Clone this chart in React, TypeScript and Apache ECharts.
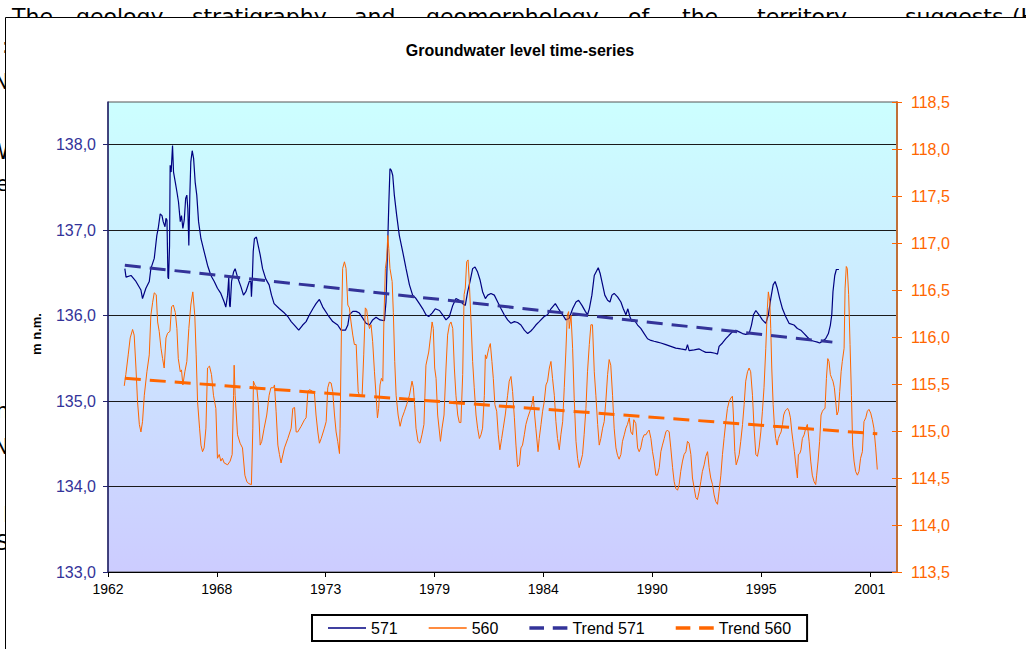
import React, { useEffect, useRef } from "react";
import * as echarts from "echarts";

// ---- axis definitions ----
const AXIS_START_YEAR = 1962.693; // x axis origin (Sept 1962), ticks every 2000 days
const X_MAX_DAYS = 14500;
const X_INTERVAL_DAYS = 2000;
const xTickDays = [0, 2000, 4000, 6000, 8000, 10000, 12000, 14000];
const leftTicks = [133, 134, 135, 136, 137, 138];

// ---- series: [decimal year, level m n.m.] ----
const s571: number[][] = [
  [1963.54,136.55],[1963.60,136.45],[1963.85,136.47],[1964.10,136.40],[1964.35,136.30],[1964.43,136.20],[1964.60,136.32],[1964.77,136.40],[1964.85,136.55],[1965.02,136.67],[1965.15,136.94],[1965.22,137.02],[1965.32,137.19],[1965.41,137.17],[1965.47,137.10],[1965.56,137.04],[1965.61,137.14],[1965.66,137.12],[1965.71,136.45],[1965.74,136.43],[1965.79,136.82],[1965.82,137.76],[1965.87,137.68],[1965.94,137.99],[1965.99,137.68],[1966.08,137.56],[1966.16,137.45],[1966.24,137.33],[1966.33,137.10],[1966.39,137.17],[1966.46,137.02],[1966.53,137.12],[1966.60,137.37],[1966.66,137.41],[1966.71,137.25],[1966.76,136.82],[1966.81,137.41],[1966.86,137.80],[1966.93,137.93],[1967.00,137.84],[1967.08,137.56],[1967.16,137.41],[1967.25,137.10],[1967.37,136.90],[1967.53,136.75],[1967.70,136.59],[1967.87,136.47],[1968.04,136.40],[1968.20,136.32],[1968.37,136.26],[1968.54,136.16],[1968.62,136.10],[1968.71,136.24],[1968.77,136.45],[1968.81,136.12],[1968.84,136.10],[1968.91,136.40],[1969.01,136.51],[1969.09,136.55],[1969.21,136.45],[1969.38,136.34],[1969.51,136.24],[1969.63,136.28],[1969.80,136.40],[1969.88,136.40],[1969.91,136.22],[1969.95,136.40],[1970.00,136.75],[1970.06,136.90],[1970.16,136.92],[1970.25,136.82],[1970.35,136.71],[1970.47,136.55],[1970.63,136.43],[1970.80,136.36],[1970.92,136.24],[1971.05,136.14],
  [1971.32,136.08],[1971.57,136.03],[1971.74,135.99],[1971.91,135.93],[1972.07,135.89],[1972.29,135.83],[1972.49,135.89],[1972.66,135.93],[1972.83,136.01],[1973.00,136.08],[1973.16,136.14],[1973.33,136.19],[1973.50,136.10],[1973.75,136.01],[1974.00,135.93],[1974.25,135.89],[1974.42,135.83],[1974.64,135.83],[1974.76,135.89],[1974.84,136.01],[1975.01,136.05],[1975.18,136.05],[1975.34,136.03],[1975.51,135.97],[1975.68,135.91],[1975.85,135.89],[1976.01,135.95],[1976.18,135.98],[1976.38,135.95],[1976.60,135.94],[1976.68,136.16],[1976.75,136.71],[1976.82,137.29],[1976.88,137.72],[1976.95,137.70],[1977.02,137.64],[1977.10,137.41],[1977.22,137.17],[1977.35,136.94],[1977.52,136.75],[1977.69,136.55],[1977.86,136.36],[1978.02,136.24],[1978.19,136.20],[1978.36,136.14],[1978.53,136.08],[1978.69,136.01],[1978.83,135.99],[1979.00,136.03],[1979.16,136.08],
  [1979.37,136.06],[1979.53,136.01],[1979.70,135.95],[1979.87,135.99],[1980.04,136.12],[1980.20,136.20],[1980.37,136.18],[1980.54,136.14],[1980.67,136.12],[1980.79,136.28],[1980.91,136.40],[1981.04,136.55],[1981.16,136.57],[1981.29,136.51],[1981.41,136.42],[1981.54,136.28],[1981.68,136.20],[1981.80,136.24],[1981.96,136.26],[1982.13,136.24],[1982.30,136.16],[1982.47,136.08],[1982.63,136.01],[1982.80,135.95],[1982.97,135.91],[1983.14,135.93],[1983.30,135.92],[1983.47,135.89],[1983.64,135.83],[1983.81,135.79],[1983.97,135.82],[1984.09,135.85],[1984.22,135.89],[1984.39,135.93],[1984.64,135.99],[1984.81,136.01],[1984.98,136.08],[1985.20,136.14],[1985.36,136.08],[1985.57,136.01],[1985.73,135.95],[1985.90,135.97],[1986.07,136.08],[1986.24,136.16],[1986.37,136.18],[1986.54,136.12],[1986.71,136.05],[1986.82,136.01],[1986.91,136.08],[1987.04,136.24],[1987.16,136.47],
  [1987.36,136.56],[1987.46,136.49],[1987.58,136.36],[1987.69,136.24],[1987.83,136.18],[1987.95,136.16],[1988.05,136.24],[1988.16,136.26],[1988.33,136.22],[1988.50,136.16],[1988.62,136.08],[1988.75,136.01],[1988.85,136.08],[1988.95,135.99],[1989.05,135.93],[1989.17,135.95],[1989.34,135.89],[1989.50,135.85],[1989.67,135.79],[1989.84,135.73],[1990.01,135.71],[1990.17,135.70],[1990.34,135.69],[1990.51,135.68],[1990.76,135.66],[1991.01,135.64],[1991.26,135.62],[1991.51,135.61],[1991.77,135.60],[1991.85,135.66],[1991.93,135.59],[1992.19,135.60],[1992.44,135.61],[1992.60,135.59],[1992.77,135.57],[1993.02,135.57],[1993.24,135.56],[1993.36,135.55],[1993.44,135.64],[1993.61,135.68],[1993.78,135.73],[1993.94,135.77],[1994.11,135.81],[1994.28,135.83],[1994.45,135.81],[1994.62,135.79],[1994.78,135.78],[1994.95,135.79],[1995.07,135.89],[1995.17,136.01],
  [1995.29,136.06],[1995.45,136.01],[1995.62,135.95],[1995.79,135.91],[1995.92,136.01],[1996.04,136.20],[1996.16,136.36],[1996.26,136.40],[1996.37,136.32],[1996.49,136.20],[1996.63,136.08],[1996.79,135.99],[1996.96,135.91],[1997.21,135.89],[1997.38,135.85],[1997.55,135.83],[1997.72,135.79],[1997.88,135.75],[1998.05,135.71],[1998.22,135.70],[1998.39,135.69],[1998.50,135.68],[1998.64,135.70],[1998.80,135.73],[1998.94,135.79],[1999.04,135.89],[1999.11,136.01],[1999.17,136.28],[1999.26,136.47],[1999.34,136.54],[1999.47,136.54]
];

const s560: number[][] = [
  [1963.51,115.48],[1963.59,115.60],[1963.71,115.81],[1963.81,115.99],[1963.93,116.08],[1964.01,116.02],[1964.10,115.67],[1964.18,115.31],[1964.27,115.07],[1964.35,114.99],[1964.43,115.10],[1964.52,115.38],[1964.65,115.63],[1964.77,115.81],[1964.85,116.23],[1964.94,116.37],[1965.02,116.47],[1965.12,116.45],[1965.19,116.16],[1965.27,116.06],[1965.36,115.88],[1965.44,115.77],[1965.52,115.67],[1965.61,115.99],[1965.69,116.04],[1965.81,116.06],[1965.89,116.32],[1965.98,116.34],[1966.08,116.26],[1966.16,116.09],[1966.23,115.77],[1966.33,115.63],[1966.39,115.65],[1966.46,115.49],[1966.56,115.63],[1966.66,115.74],[1966.76,116.09],[1966.86,116.34],[1966.96,116.48],[1967.06,116.23],[1967.13,115.81],[1967.20,115.31],[1967.30,115.03],[1967.37,114.85],[1967.45,114.78],[1967.53,114.82],[1967.62,115.03],[1967.70,115.67],[1967.80,115.69],[1967.90,115.60],[1968.00,115.38],[1968.12,115.24],[1968.20,114.71],[1968.29,114.75],[1968.37,114.68],[1968.45,114.71],[1968.54,114.66],[1968.71,114.64],[1968.84,114.68],[1968.94,114.75],[1969.01,115.38],[1969.04,115.70],[1969.09,115.38],[1969.21,114.96],[1969.34,114.87],[1969.46,114.82],[1969.58,114.53],[1969.68,114.46],[1969.78,114.44],[1969.91,114.43],[1969.98,115.03],[1970.01,115.53],[1970.08,115.49],[1970.18,115.46],[1970.26,115.28],[1970.35,114.85],[1970.43,114.89],[1970.55,115.03],[1970.68,115.17],[1970.80,115.38],[1970.89,115.46],[1971.02,115.46],
  [1971.07,115.49],[1971.15,115.21],[1971.24,114.85],[1971.32,114.75],[1971.40,114.66],[1971.57,114.82],[1971.74,114.92],[1971.91,115.03],[1971.99,115.24],[1972.08,115.25],[1972.16,114.99],[1972.24,114.99],[1972.41,115.05],[1972.58,115.12],[1972.66,115.14],[1972.75,115.42],[1972.83,115.44],[1973.00,115.42],[1973.08,115.40],[1973.16,115.17],[1973.25,114.99],[1973.33,114.87],[1973.42,114.92],[1973.58,115.03],[1973.67,115.10],[1973.75,115.46],[1973.83,115.52],[1973.92,115.51],[1974.00,115.42],[1974.09,115.17],[1974.17,114.99],[1974.25,114.89],[1974.34,114.76],[1974.37,115.03],[1974.44,116.09],[1974.50,116.73],[1974.59,116.80],[1974.67,116.73],[1974.76,116.34],[1974.84,116.31],[1974.92,116.16],[1975.01,116.02],[1975.09,115.92],[1975.18,115.92],[1975.23,115.67],[1975.28,115.42],[1975.34,115.38],[1975.48,115.38],[1975.56,115.81],[1975.64,116.31],[1975.71,116.29],[1975.78,116.16],[1975.85,116.09],[1975.93,116.13],[1976.01,115.95],[1976.10,115.63],[1976.18,115.38],[1976.25,115.14],[1976.31,115.24],[1976.38,115.49],[1976.45,115.56],[1976.52,115.53],[1976.58,116.23],[1976.65,116.73],[1976.72,116.84],[1976.77,117.08],[1976.82,116.94],[1976.88,116.73],[1976.99,116.59],[1977.05,116.26],[1977.12,115.74],[1977.19,115.38],[1977.29,115.17],[1977.39,115.05],[1977.49,115.14],[1977.61,115.21],[1977.72,115.28],[1977.86,115.38],[1977.99,115.53],[1978.06,115.46],[1978.12,115.28],[1978.19,115.03],[1978.29,114.89],[1978.39,114.87],[1978.49,114.96],[1978.59,115.07],[1978.69,115.70],[1978.83,115.84],[1978.93,116.02],[1979.00,116.16],[1979.06,116.09],[1979.13,115.67],[1979.20,115.56],[1979.28,115.17],
  [1979.42,114.89],[1979.50,115.03],[1979.60,115.17],[1979.70,115.67],[1979.78,116.02],[1979.87,116.13],[1979.95,116.16],[1980.04,116.09],[1980.12,115.67],[1980.20,115.38],[1980.29,115.17],[1980.37,115.09],[1980.45,115.09],[1980.54,115.60],[1980.61,116.45],[1980.67,116.52],[1980.74,116.80],[1980.81,116.82],[1980.87,116.59],[1980.96,116.16],[1981.04,115.74],[1981.12,115.46],[1981.21,115.17],[1981.29,115.03],[1981.38,114.92],[1981.46,114.96],[1981.54,115.03],[1981.63,115.38],[1981.68,115.81],[1981.74,115.77],[1981.85,115.88],[1981.93,115.93],[1982.01,115.74],[1982.08,115.56],[1982.16,115.28],[1982.25,115.21],[1982.33,114.96],[1982.41,114.80],[1982.50,114.92],[1982.58,115.03],[1982.68,115.17],[1982.80,115.38],[1982.88,115.53],[1982.97,115.58],[1983.05,115.42],[1983.14,115.14],[1983.22,114.85],[1983.30,114.62],[1983.39,114.64],[1983.47,114.82],[1983.55,114.85],[1983.64,114.96],[1983.72,115.07],[1983.81,115.14],[1983.92,115.21],[1984.02,115.28],[1984.09,115.37],[1984.16,115.17],[1984.22,115.03],[1984.33,114.78],[1984.39,114.92],[1984.48,115.07],[1984.56,115.21],[1984.64,115.31],[1984.73,115.49],[1984.81,115.53],[1984.90,115.67],[1984.98,115.74],[1985.06,115.56],[1985.15,115.38],[1985.23,115.10],[1985.31,114.92],[1985.40,114.80],[1985.48,114.96],[1985.57,115.10],[1985.65,115.46],[1985.73,115.84],[1985.80,116.23],[1985.87,116.27],[1985.90,116.09],[1985.99,116.23],[1986.07,115.88],[1986.15,115.35],[1986.24,114.89],[1986.32,114.71],[1986.40,114.61],[1986.49,114.68],[1986.57,114.75],[1986.65,114.96],[1986.74,115.24],[1986.82,115.63],[1986.91,115.92],[1986.99,116.13],[1987.07,116.13],[1987.16,115.63],[1987.24,115.38],[1987.33,115.07],
  [1987.41,114.85],[1987.49,114.92],[1987.58,115.03],[1987.66,115.10],[1987.74,115.31],[1987.83,115.60],[1987.91,115.76],[1987.99,115.70],[1988.08,115.38],[1988.16,115.03],[1988.25,114.82],[1988.33,114.74],[1988.41,114.70],[1988.50,114.75],[1988.58,114.89],[1988.67,114.96],[1988.75,115.03],[1988.83,115.07],[1988.92,115.14],[1989.00,114.99],[1989.09,114.96],[1989.15,115.12],[1989.25,115.08],[1989.34,114.82],[1989.42,114.78],[1989.50,114.82],[1989.59,114.92],[1989.67,114.96],[1989.76,114.96],[1989.84,114.99],[1989.92,115.01],[1990.01,114.92],[1990.09,114.78],[1990.17,114.68],[1990.26,114.53],[1990.34,114.53],[1990.43,114.61],[1990.51,114.78],[1990.59,114.85],[1990.68,114.92],[1990.76,114.99],[1990.84,115.01],[1990.93,114.99],[1991.01,114.82],[1991.10,114.61],[1991.18,114.46],[1991.26,114.39],[1991.35,114.37],[1991.43,114.43],[1991.51,114.57],[1991.60,114.68],[1991.68,114.75],[1991.77,114.78],[1991.85,114.89],[1991.93,114.87],[1992.02,114.75],[1992.10,114.50],[1992.19,114.39],[1992.27,114.29],[1992.35,114.27],[1992.44,114.36],[1992.52,114.46],[1992.60,114.57],[1992.69,114.64],[1992.77,114.73],[1992.86,114.78],[1992.94,114.61],[1993.02,114.50],[1993.11,114.43],[1993.19,114.32],[1993.27,114.25],[1993.36,114.22],[1993.44,114.36],[1993.53,114.53],[1993.61,114.75],[1993.69,114.92],[1993.78,115.10],[1993.86,115.24],[1993.94,115.31],[1994.03,115.35],[1994.11,115.37],[1994.16,115.17],[1994.23,114.78],[1994.30,114.64],[1994.36,114.68],[1994.45,114.75],[1994.53,114.89],[1994.62,115.07],[1994.70,115.28],[1994.78,115.53],[1994.87,115.63],[1994.95,115.67],[1995.03,115.63],[1995.12,115.38],[1995.20,115.03],[1995.29,114.75],
  [1995.37,114.73],[1995.45,114.82],[1995.54,114.99],[1995.62,115.21],[1995.70,115.46],[1995.79,115.88],[1995.87,116.31],[1995.92,116.48],[1995.99,116.38],[1996.04,116.09],[1996.09,115.67],[1996.16,115.28],[1996.22,115.07],[1996.29,114.92],[1996.36,114.85],[1996.42,114.92],[1996.49,114.96],[1996.56,114.99],[1996.63,115.07],[1996.69,115.17],[1996.76,115.21],[1996.83,115.23],[1996.89,115.24],[1996.96,115.21],[1997.03,115.14],[1997.10,114.99],[1997.16,114.89],[1997.23,114.78],[1997.30,114.64],[1997.38,114.50],[1997.43,114.75],[1997.50,114.76],[1997.56,114.80],[1997.63,114.92],[1997.72,114.96],[1997.80,115.03],[1997.88,115.07],[1997.97,114.89],[1998.05,114.68],[1998.13,114.53],[1998.22,114.46],[1998.30,114.43],[1998.35,114.53],[1998.42,114.68],[1998.50,114.89],[1998.57,115.17],[1998.64,115.21],[1998.70,115.23],[1998.77,115.24],[1998.84,115.56],[1998.91,115.77],[1998.97,115.74],[1999.04,115.60],[1999.11,115.56],[1999.17,115.53],[1999.24,115.46],[1999.31,115.31],[1999.37,115.17],[1999.44,115.21],[1999.51,115.42],[1999.58,115.63],[1999.64,115.74],[1999.73,115.88],[1999.78,116.52],[1999.84,116.75],[1999.89,116.73],[1999.96,116.45],[2000.03,115.92],[2000.10,115.38],[2000.16,114.85],[2000.23,114.68],[2000.31,114.57],[2000.40,114.53],[2000.48,114.57],[2000.56,114.71],[2000.65,114.78],[2000.73,115.10],[2000.82,115.14],[2000.90,115.21],[2000.98,115.23],[2001.07,115.19],[2001.15,115.12],[2001.23,115.03],[2001.32,114.82],[2001.40,114.59]
];

const trend571: number[][] = [[1963.54, 136.59], [1999.14, 135.69]];
const trend560: number[][] = [[1963.54, 115.56], [2001.40, 114.97]];

const seriesNames = ["571", "560", "Trend 571", "Trend 560"];
const titleText = "Groundwater level time-series";
const yName = "m n.m.";

// background document text (page behind the chart)
const pageWords: [string, number][] = [
  ["The", 12], ["geology", 76], ["stratigraphy", 192], ["and", 354], ["geomorphology", 426],
  ["of", 628], ["the", 682], ["territory", 757], ["suggests", 905], ["(H", 1012],
];
const edgeLetters: [string, number][] = [
  [":", 46], ["N", 82], ["W", 152], ["e", 184], ["h", 411], ["N", 447], ["l", 515], ["S", 543],
];

const FONT = 'Arial, "Liberation Sans", sans-serif';
const SOLID_ICON = "path://M0,0h38v1.6h-38z";
const DASH_ICON = "path://M0,0h15v3.6h-15zM24,0h15v3.6h-15z";
const toDays = (y: number) => (y - AXIS_START_YEAR) * 365.25;
const toXY = (arr: number[][]) => arr.map(([t, v]) => [toDays(t), v]);
const fmtComma = (v: number) => v.toFixed(1).replace(".", ",");

export default function App() {
  const ref = useRef<HTMLDivElement>(null);
  useEffect(() => {
    if (!ref.current) return;
    const chart = echarts.init(ref.current, undefined, { renderer: "svg" });

    const graphic: any[] = [];
    pageWords.forEach(([w, x]) => {
      graphic.push({
        type: "text", x, y: 5, z: -20,
        style: { text: w, fill: "#000", font: `22px "DejaVu Sans", sans-serif`, textVerticalAlign: "top" },
      });
    });
    edgeLetters.forEach(([w, y]) => {
      graphic.push({
        type: "text", x: 9, y, z: -20,
        style: { text: w, fill: "#000", font: `21px "DejaVu Sans", sans-serif`, textAlign: "right", textVerticalAlign: "middle" },
      });
    });
    graphic.push({
      type: "rect", z: -10,
      shape: { x: 5.5, y: 17.5, width: 1100, height: 700 },
      style: { fill: "#ffffff", stroke: "#000000", lineWidth: 1 },
    });
    graphic.push({
      type: "text", x: 520, y: 50, z: 5,
      style: { text: titleText, fill: "#000", font: `bold 16px ${FONT}`, textAlign: "center", textVerticalAlign: "middle" },
    });
    graphic.push({
      type: "text", x: 36, y: 334, rotation: Math.PI / 2, z: 5,
      style: { text: yName, fill: "#000", font: `bold 13px ${FONT}`, textAlign: "center", textVerticalAlign: "middle" },
    });

    const option: any = {
      animation: false,
      backgroundColor: "transparent",
      graphic,
      grid: {
        left: 108, right: 129, top: 102, bottom: 77,
        show: true, borderColor: "#555", borderWidth: 1,
        backgroundColor: new echarts.graphic.LinearGradient(0, 0, 0, 1, [
          { offset: 0, color: "#ccffff" },
          { offset: 1, color: "#ccccff" },
        ]),
      },
      legend: {
        data: [
          { name: seriesNames[0], icon: SOLID_ICON },
          { name: seriesNames[1], icon: SOLID_ICON },
          { name: seriesNames[2], icon: DASH_ICON },
          { name: seriesNames[3], icon: DASH_ICON },
        ],
        left: 312, top: 615,
        padding: [5, 16, 5, 16],
        borderColor: "#000", borderWidth: 2,
        backgroundColor: "#fff",
        itemWidth: 38, itemHeight: 14, itemGap: 31,
        textStyle: { fontSize: 16, color: "#000", fontFamily: FONT },
      },
      xAxis: {
        type: "value", min: 0, max: X_MAX_DAYS, interval: X_INTERVAL_DAYS,
        axisLine: { show: true, lineStyle: { color: "#000", width: 1 } },
        axisTick: { show: true, length: 5, lineStyle: { color: "#000" }, customValues: xTickDays },
        axisLabel: {
          color: "#000", fontSize: 14, fontFamily: FONT, margin: 10,
          customValues: xTickDays,
          formatter: (v: number) => String(Math.floor(AXIS_START_YEAR + v / 365.25)),
        },
        splitLine: { show: false },
      },
      yAxis: [
        {
          type: "value", position: "left", min: 133, max: 138.5, interval: 1,
          axisLine: { show: true, lineStyle: { color: "#22226e", width: 1.5 } },
          axisTick: { show: true, length: 5, lineStyle: { color: "#22226e" }, customValues: leftTicks },
          axisLabel: { color: "#333399", fontSize: 16, fontFamily: FONT, margin: 12, customValues: leftTicks, formatter: fmtComma },
          splitLine: { show: true, lineStyle: { color: "#1a1a1a", width: 1 } },
        },
        {
          type: "value", position: "right", min: 113.5, max: 118.5, interval: 0.5,
          axisLine: { show: true, lineStyle: { color: "#c07038", width: 2 } },
          axisTick: { show: true, length: 5, lineStyle: { color: "#ff6600" } },
          axisLabel: { color: "#ff6600", fontSize: 16, fontFamily: FONT, margin: 14, formatter: fmtComma },
          splitLine: { show: false },
        },
        {
          type: "value", position: "right", min: 113.5, max: 118.5, interval: 0.5,
          axisLine: { show: false },
          axisTick: { show: true, inside: true, length: 5, lineStyle: { color: "#ff6600" } },
          axisLabel: { show: false },
          splitLine: { show: false },
        },
      ],
      series: [
        {
          name: seriesNames[0], type: "line", yAxisIndex: 0, data: toXY(s571),
          symbol: "none", showSymbol: false, clip: true,
          lineStyle: { color: "#000080", width: 1.2 }, itemStyle: { color: "#000080" }, z: 2,
        },
        {
          name: seriesNames[1], type: "line", yAxisIndex: 1, data: toXY(s560),
          symbol: "none", showSymbol: false, clip: true,
          lineStyle: { color: "#ff6600", width: 1 }, itemStyle: { color: "#ff6600" }, z: 3,
        },
        {
          name: seriesNames[2], type: "line", yAxisIndex: 0, data: toXY(trend571),
          symbol: "none", showSymbol: false,
          lineStyle: { color: "#333399", width: 3, type: [16, 9] }, itemStyle: { color: "#333399" }, z: 4,
        },
        {
          name: seriesNames[3], type: "line", yAxisIndex: 1, data: toXY(trend560),
          symbol: "none", showSymbol: false,
          lineStyle: { color: "#ff6600", width: 3, type: [16, 9] }, itemStyle: { color: "#ff6600" }, z: 4,
        },
      ],
    };
    chart.setOption(option);
    return () => chart.dispose();
  }, []);

  return (
    <div
      ref={ref}
      style={{ position: "fixed", left: 0, top: 0, width: 1026, height: 649, background: "#fff" }}
    />
  );
}
